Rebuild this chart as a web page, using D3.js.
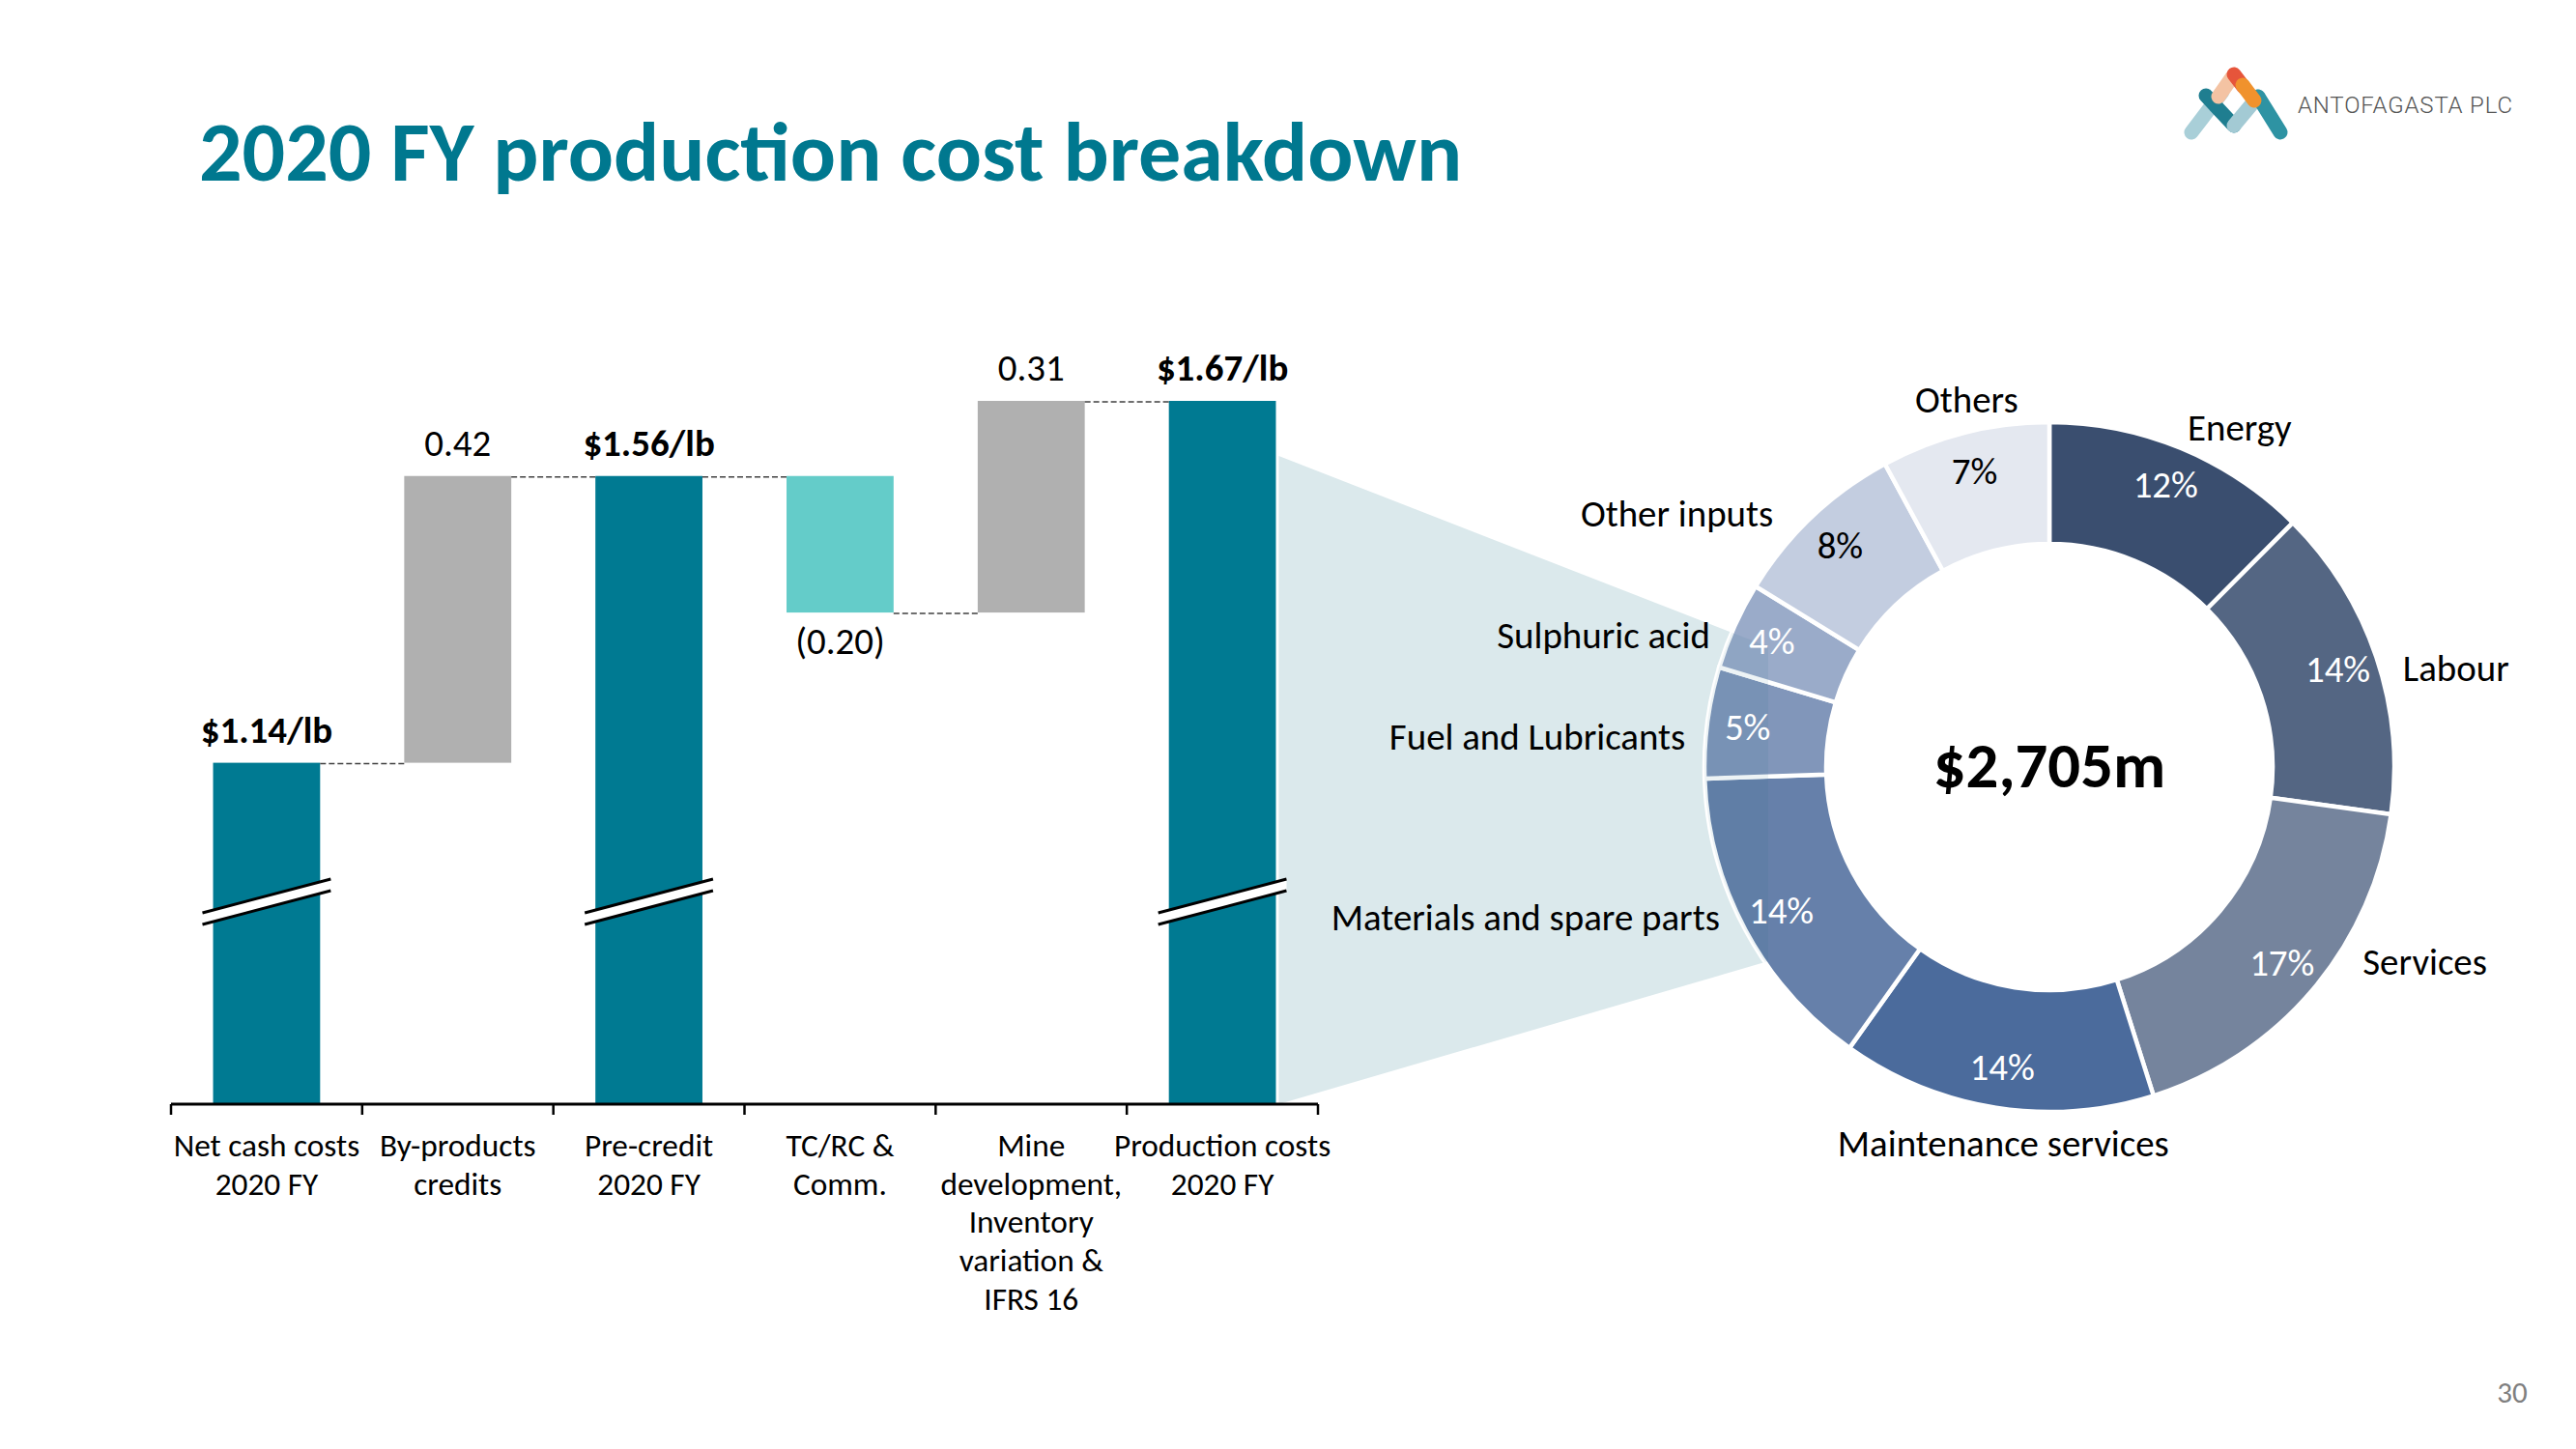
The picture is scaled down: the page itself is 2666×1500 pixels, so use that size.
<!DOCTYPE html>
<html>
<head>
<meta charset="utf-8">
<script src="https://cdn.jsdelivr.net/npm/d3@7"></script>
<style>
html, body { margin: 0; padding: 0; background: #ffffff; }
svg { display: block; }
</style>
</head>
<body>
<svg id="chart" width="2666" height="1500"></svg>
<script>
// ---------------- DATA ----------------
const titleText = "2020 FY production cost breakdown";

const categories = [
  "Net cash costs 2020 FY",
  "By-products credits",
  "Pre-credit 2020 FY",
  "TC/RC & Comm.",
  "Mine development, Inventory variation & IFRS 16",
  "Production costs 2020 FY"
];
const categoryLines = [
  ["Net cash costs", "2020 FY"],
  ["By-products", "credits"],
  ["Pre-credit", "2020 FY"],
  ["TC/RC &", "Comm."],
  ["Mine", "development,", "Inventory", "variation &", "IFRS 16"],
  ["Production costs", "2020 FY"]
];
const barKinds  = ["total", "increase", "total", "decrease", "increase", "total"];
const barValues = [1.14, 0.42, 1.56, -0.20, 0.31, 1.67];
const barLabels = ["$1.14/lb", "0.42", "$1.56/lb", "(0.20)", "0.31", "$1.67/lb"];
const brokenBars = [true, false, true, false, false, true];
const axisFloor = 0.64;   // truncated value axis (bars are broken)

const costCategories = [
  "Energy", "Labour", "Services", "Maintenance services",
  "Materials and spare parts", "Fuel and Lubricants",
  "Sulphuric acid", "Other inputs", "Others"
];
const costShares    = [12.45, 14.7, 17.9, 14.7, 14.6, 5.2, 4.1, 8.3, 7.9]; // % of total (from slice angles)
const costPctLabels = [12, 14, 17, 14, 14, 5, 4, 8, 7];                    // printed labels
const totalCostLabel = "$2,705m";
const pageNumber = "30";

// ---------------- STYLE / LAYOUT ----------------
const W = 2666, H = 1500;
const FONT = "Carlito, Calibri, Lato, 'Open Sans', sans-serif";
const TEAL = "#00788f";
const barColors = { total: "#007a92", increase: "#b0b0b0", decrease: "#64ccc9" };
const sliceColors = ["#3a4e6f", "#546683", "#75849d", "#4b6b9c", "#6680aa",
                     "#8196ba", "#9aabc9", "#c3cde0", "#e4e8f0"];
const pctColors = ["#fff", "#fff", "#fff", "#fff", "#fff", "#fff", "#fff", "#000", "#000"];

const svg = d3.select("#chart");
svg.append("rect").attr("width", W).attr("height", H).attr("fill", "#fff");

// Title
svg.append("text")
  .attr("x", 206).attr("y", 187)
  .attr("font-family", FONT).attr("font-weight", 700).attr("font-size", 88)
  .attr("fill", TEAL)
  .text(titleText);

// ---------------- WATERFALL ----------------
const baseY = 1143;
const x = d3.scaleBand().domain(categories).range([177, 1364])
  .paddingInner(0.44).paddingOuter(0.22);
const y = d3.scaleLinear().domain([axisFloor, 1.67]).range([baseY, 415]);
const bw = x.bandwidth();

let running = 0;
const rows = barValues.map((v, i) => {
  const k = barKinds[i];
  let lo, hi, end;
  if (k === "total") { lo = axisFloor; hi = v; end = v; }
  else { const s = running; end = s + v; lo = Math.min(s, end); hi = Math.max(s, end); }
  running = end;
  return { cat: categories[i], kind: k, lo, hi, end, label: barLabels[i], broken: brokenBars[i], lines: categoryLines[i] };
});

const lastRow = rows[rows.length - 1];
const cx = 2121, cy = 794, rOut = 357, rIn = 231;

// funnel (from last bar towards donut)
const fLeft = x(lastRow.cat) + bw + 3;
const fTop = y(lastRow.hi) + 57;
const fRight = cx - 291;
const funnel = [
  [fLeft, fTop],
  [fRight, fTop + (fRight - fLeft) * 0.39],
  [fRight, baseY - (fRight - fLeft) * 0.292],
  [fLeft, baseY]
];
const funnelPts = funnel.map(p => p.join(",")).join(" ");
svg.append("polygon").attr("points", funnelPts).attr("fill", "#dbe9ec");

const gW = svg.append("g");

gW.selectAll("rect.bar").data(rows).join("rect")
  .attr("class", "bar")
  .attr("x", d => x(d.cat))
  .attr("width", bw)
  .attr("y", d => y(d.hi))
  .attr("height", d => y(d.lo) - y(d.hi))
  .attr("fill", d => barColors[d.kind]);

// connectors
const conn = rows.slice(0, -1).map((d, i) => ({ x1: x(d.cat) + bw, x2: x(rows[i + 1].cat), v: d.end }));
gW.selectAll("line.conn").data(conn).join("line")
  .attr("x1", d => d.x1).attr("x2", d => d.x2)
  .attr("y1", d => y(d.v) + 1).attr("y2", d => y(d.v) + 1)
  .attr("stroke", "#404040").attr("stroke-width", 1.5)
  .attr("stroke-dasharray", "6,3");

// axis line + boundary ticks
const step = x.step();
const x0 = x.range()[0];
const bounds = d3.range(categories.length + 1).map(i => x0 + i * step);
gW.append("line")
  .attr("x1", bounds[0]).attr("x2", bounds[bounds.length - 1])
  .attr("y1", baseY).attr("y2", baseY)
  .attr("stroke", "#000").attr("stroke-width", 3);
gW.selectAll("line.tick").data(bounds).join("line")
  .attr("x1", d => d).attr("x2", d => d)
  .attr("y1", baseY).attr("y2", baseY + 11)
  .attr("stroke", "#000").attr("stroke-width", 2.5);

// break marks
const breakY = baseY - 209.5;
const brk = rows.filter(d => d.broken);
const bg = gW.selectAll("g.brk").data(brk).join("g").attr("class", "brk")
  .attr("transform", d => `translate(${x(d.cat) + bw / 2},${breakY})`);
const hw = bw / 2 + 11, hs = 17.5, gap = 6;
bg.append("polygon")
  .attr("points", `${-hw},${hs - gap} ${hw},${-hs - gap} ${hw},${-hs + gap} ${-hw},${hs + gap}`)
  .attr("fill", "#fff");
bg.append("line").attr("x1", -hw).attr("y1", hs - gap).attr("x2", hw).attr("y2", -hs - gap)
  .attr("stroke", "#000").attr("stroke-width", 3);
bg.append("line").attr("x1", -hw).attr("y1", hs + gap).attr("x2", hw).attr("y2", -hs + gap)
  .attr("stroke", "#000").attr("stroke-width", 3);

// value labels
gW.selectAll("text.val").data(rows).join("text")
  .attr("x", d => x(d.cat) + bw / 2)
  .attr("y", d => d.kind === "decrease" ? y(d.lo) + 43 : y(d.hi) - 21)
  .attr("text-anchor", "middle")
  .attr("font-family", FONT).attr("font-size", 38.9)
  .attr("font-weight", d => d.kind === "total" ? 700 : 400)
  .attr("fill", "#000")
  .text(d => d.label);

// category labels
const catText = gW.selectAll("text.cat").data(rows).join("text")
  .attr("text-anchor", "middle")
  .attr("font-family", FONT).attr("font-size", 33.3).attr("fill", "#000");
catText.selectAll("tspan").data(d => d.lines.map(l => ({ l, cx: x(d.cat) + bw / 2 }))).join("tspan")
  .attr("x", d => d.cx)
  .attr("y", (d, i) => 1197 + i * 39.7)
  .text(d => d.l);

// ---------------- DONUT ----------------
const pie = d3.pie().sort(null).value(d => d.v);
const arcs = pie(costShares.map((v, i) => ({ v, name: costCategories[i], pct: costPctLabels[i], i })));
const arc = d3.arc().innerRadius(rIn).outerRadius(rOut);
const labelArc = d3.arc().innerRadius(275).outerRadius(355);

const gD = svg.append("g").attr("transform", `translate(${cx},${cy})`);
gD.selectAll("path").data(arcs).join("path")
  .attr("d", arc)
  .attr("fill", d => sliceColors[d.data.i])
  .attr("stroke", "#fff").attr("stroke-width", 4.5);

// faint overlay of the funnel over the donut ring only
const ringPath = d3.arc().innerRadius(rIn).outerRadius(rOut)({ startAngle: 0, endAngle: 2 * Math.PI });
svg.append("defs").append("clipPath").attr("id", "ringClip")
  .append("path").attr("d", ringPath).attr("transform", `translate(${cx},${cy})`);
svg.append("polygon")
  .attr("points", funnelPts)
  .attr("clip-path", "url(#ringClip)")
  .attr("fill", "#1a6a80").attr("fill-opacity", 0.08);

const gL = svg.append("g").attr("transform", `translate(${cx},${cy})`);
// percentage labels
gL.selectAll("text.pct").data(arcs).join("text")
  .attr("transform", d => `translate(${labelArc.centroid(d)})`)
  .attr("dy", "0.32em")
  .attr("text-anchor", "middle")
  .attr("font-family", FONT).attr("font-size", 38.9)
  .attr("fill", d => pctColors[d.data.i])
  .text(d => d.data.pct + "%");

// outer category labels
const nudges = [[-4, 5], [1, 21], [30, -46], [12, 10], [-2, -26], [5, 19], [0, 22], [-21, 18], [9, -6]];
const R = 385;
gL.selectAll("text.out").data(arcs).join("text")
  .each(function (d) {
    const a = (d.startAngle + d.endAngle) / 2;
    const deg = a * 180 / Math.PI;
    const n = nudges[d.data.i];
    const px = R * Math.sin(a) + n[0], py = -R * Math.cos(a) + n[1];
    const anchor = (deg > 15 && deg < 165) ? "start" : (deg > 195 && deg < 345) ? "end" : "middle";
    d3.select(this).attr("x", px).attr("y", py).attr("text-anchor", anchor);
  })
  .attr("dy", "0.32em")
  .attr("font-family", FONT).attr("font-size", 38.9).attr("fill", "#000")
  .text(d => d.data.name);

// centre total
gL.append("text")
  .attr("x", 0).attr("y", 21)
  .attr("text-anchor", "middle")
  .attr("font-family", FONT).attr("font-weight", 700).attr("font-size", 66.7)
  .attr("fill", "#000")
  .text(totalCostLabel);

// ---------------- LOGO ----------------
const gLogo = svg.append("g");
const logoSegs = [
  { p: [[2268, 137], [2300, 95]], c: "#a9cfd8" },
  { p: [[2283, 99], [2312, 130]], c: "#1f7e90" },
  { p: [[2312, 130], [2337, 100]], c: "#a3cad4" },
  { p: [[2337, 100], [2360, 137]], c: "#2e93a3" },
  { p: [[2296, 100], [2310, 80]], c: "#f4c3a3" },
  { p: [[2312, 77], [2322, 90]], c: "#e6553b" },
  { p: [[2321, 88], [2333, 104]], c: "#f0922d" }
];
gLogo.selectAll("line").data(logoSegs).join("line")
  .attr("x1", d => d.p[0][0]).attr("y1", d => d.p[0][1])
  .attr("x2", d => d.p[1][0]).attr("y2", d => d.p[1][1])
  .attr("stroke", d => d.c).attr("stroke-width", 15).attr("stroke-linecap", "round");
gLogo.append("text")
  .attr("x", 2378).attr("y", 117)
  .attr("font-family", "Roboto, 'DejaVu Sans', sans-serif").attr("font-weight", 300)
  .attr("font-size", 24).attr("fill", "#555")
  .attr("textLength", 222).attr("lengthAdjust", "spacing")
  .text("ANTOFAGASTA PLC");

// page number
svg.append("text")
  .attr("x", 2600).attr("y", 1452).attr("text-anchor", "middle")
  .attr("font-family", FONT).attr("font-size", 31).attr("fill", "#7f7f7f")
  .text(pageNumber);
</script>
</body>
</html>
